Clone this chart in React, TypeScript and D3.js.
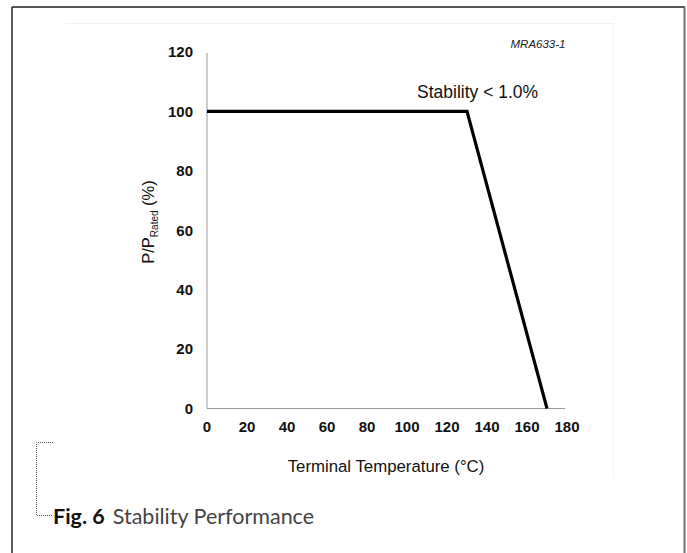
import * as d3 from "d3";

// derating curve, P/P_rated (%) vs terminal temperature (°C)
const temps = [0, 130, 170];
const power = [100, 100, 0];
const xTicks = [0, 20, 40, 60, 80, 100, 120, 140, 160, 180];
const yTicks = [0, 20, 40, 60, 80, 100, 120];

const width = 687;
const height = 553;

export default function App() {
  const x = d3.scaleLinear([0, 180], [207, 567]);
  const y = d3.scaleLinear([0, 120], [408.5, 52]);
  const pts = temps.map((t, i) => [t, power[i]] as [number, number]);
  const line = d3.line<[number, number]>((d) => x(d[0]), (d) => y(d[1]));
  const font = "'Liberation Sans', Arial, Helvetica, sans-serif";

  return (
    <div style={{ position: "absolute", left: 0, top: 0 }}>
      <svg width={width} height={height} style={{ display: "block", background: "white" }}>
        {/* page frame */}
        <line x1={12} y1={7} x2={685} y2={7} stroke="#555" strokeWidth={2} />
        <line x1={12} y1={7} x2={12} y2={height} stroke="#222" strokeWidth={1.5} />
        <line x1={684.5} y1={7} x2={684.5} y2={height} stroke="#777" strokeWidth={2} />
        <line x1={65} y1={23.5} x2={614} y2={23.5} stroke="#f2f2f2" strokeWidth={1} />
        <line x1={613.5} y1={23} x2={613.5} y2={478} stroke="#f5f5f5" strokeWidth={1} />

        <text x={538} y={48} fontFamily={font} fontSize={11.5} fontStyle="italic" textAnchor="middle" fill="#222">
          MRA633-1
        </text>

        {/* axes */}
        <line x1={x(0)} y1={y(0)} x2={x(0)} y2={53} stroke="#999" strokeWidth={1} />
        <line x1={x(0)} y1={y(0)} x2={565} y2={y(0)} stroke="#999" strokeWidth={1} />

        <g fontFamily={font} fontSize={15} fontWeight="bold" fill="#111">
          {yTicks.map((t) => (
            <text key={t} x={193} y={y(t)} dy="0.35em" textAnchor="end">
              {t}
            </text>
          ))}
          {xTicks.map((t) => (
            <text key={t} x={x(t)} y={432} textAnchor="middle">
              {t}
            </text>
          ))}
        </g>

        <path d={line(pts) ?? undefined} fill="none" stroke="#000" strokeWidth={3.2} strokeLinejoin="miter" />

        <text x={417} y={98} fontFamily={font} fontSize={17.5} fill="#111">
          Stability {"<"} 1.0%
        </text>

        <text x={386} y={472} fontFamily={font} fontSize={16.8} textAnchor="middle" fill="#111">
          Terminal Temperature (°C)
        </text>

        <text transform="translate(154,222) rotate(-90)" fontFamily={font} fontSize={16.5} textAnchor="middle" fill="#111">
          P/P<tspan fontSize={10} dy={4}>Rated</tspan>
          <tspan dy={-4}> (%)</tspan>
        </text>

        {/* caption bracket */}
        <path d="M53,442.5 H36.5 V515.5 H53" fill="none" stroke="#555" strokeWidth={1} strokeDasharray="1,1" />
        <text x={53} y={524} fontFamily="Lato, 'Open Sans', sans-serif" fontSize={21.5} fill="#222">
          <tspan fontWeight="bold" fill="#111">Fig. 6</tspan>
          <tspan dx={8} fill="#444">Stability Performance</tspan>
        </text>
      </svg>
    </div>
  );
}
